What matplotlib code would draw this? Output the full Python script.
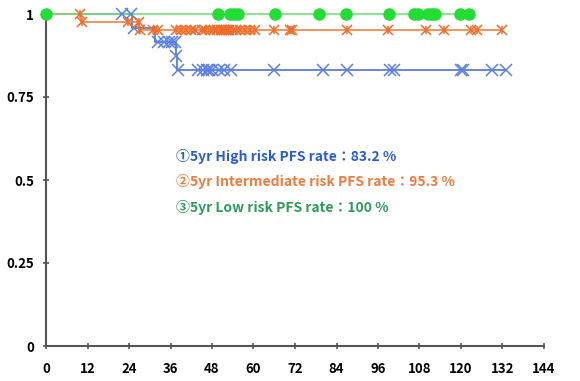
import numpy as np
import matplotlib
matplotlib.use("Agg")
import matplotlib.pyplot as plt

plt.rcParams["font.family"] = ["Noto Sans CJK JP", "DejaVu Sans"]

# High risk group (blue)
high_event_t = [0, 25, 31.5, 37.5, 38]
high_surv = [1.0, 0.958, 0.917, 0.875, 0.832]
high_censor = [22, 24.5, 25.5, 32.5, 34, 35.5, 36.5, 37.2, 37.7, 38.2, 44, 45.5,
               46.5, 47, 48, 50, 51.5, 53.5, 66, 80, 87, 99.5, 100.5, 120, 120.5,
               129, 133]
high_end = 133

# Intermediate risk group (orange)
mid_event_t = [0, 10, 27]
mid_surv = [1.0, 0.977, 0.953]
mid_censor = [9.8, 10.3, 23.8, 26.8, 27.3, 31, 32.4, 37.5, 39, 40.5, 42, 43, 45,
              46, 47.5, 48.5, 49.5, 50.5, 51, 51.5, 52, 52.5, 53, 54, 55, 56,
              57.5, 59, 60.5, 66, 70.5, 71, 87, 99, 110, 115, 123, 124.5, 132]
mid_end = 132

# Low risk group (green)
low_event_t = [0]
low_surv = [1.0]
low_censor = [0, 49.8, 53.2, 54.5, 55.6, 66.2, 78.8, 86.8, 99.2, 106.5, 107.5,
              110.5, 111.5, 112.5, 119.7, 122.3]
low_end = 122.6

labels = ["①5yr High risk PFS rate：83.2 %",
          "②5yr Intermediate risk PFS rate：95.3 %",
          "③5yr Low risk PFS rate：100 %"]
text_colors = ["#2a5bd7", "#f07a3a", "#2f9a5a"]

x_ticks = list(range(0, 145, 12))
y_ticks = [0, 0.25, 0.5, 0.75, 1]
y_tick_labels = ["0", "0.25", "0.5", "0.75", "1"]


def km_curve(ax, event_t, surv, censor, end, line_color, markers, mcolor, ms, mew):
    t = np.array(list(event_t) + [end])
    s = np.array(list(surv) + [surv[-1]])
    ax.step(t, s, where="post", color=line_color, lw=1.2, zorder=2, clip_on=False)
    c = np.array(censor)
    idx = np.searchsorted(event_t, c, side="right") - 1
    cs = np.array(surv)[idx]
    for m in markers:
        if m == "o":
            ax.plot(c, cs, "o", color=mcolor, ms=ms, mec=mcolor, zorder=3,
                    clip_on=False)
        else:
            size = ms * 0.85 if m == "|" else ms
            ax.plot(c, cs, linestyle="none", marker=m, color=mcolor, ms=size,
                    mew=mew, zorder=3, clip_on=False)


fig = plt.figure(figsize=(5.8, 3.81), dpi=100)
ax = fig.add_axes([46 / 580, 1 - 346 / 381, 498 / 580, 332 / 381])

km_curve(ax, high_event_t, high_surv, high_censor, high_end,
         "#4a72d8", ["x"], "#5b7fe0", 8, 1.1)
km_curve(ax, mid_event_t, mid_surv, mid_censor, mid_end,
         "#f08040", ["x", "|"], "#f06a28", 7.5, 1.1)
km_curve(ax, low_event_t, low_surv, low_censor, low_end,
         "#77e077", ["o"], "#22dd33", 8, 1)

ax.set_xlim(0, 144)
ax.set_ylim(0, 1)
ax.set_xticks(x_ticks)
ax.set_yticks(y_ticks)
ax.set_yticklabels(y_tick_labels)
for sp in ["top", "right"]:
    ax.spines[sp].set_visible(False)
for sp in ["left", "bottom"]:
    ax.spines[sp].set_color("#555555")
    ax.spines[sp].set_linewidth(1.5)
ax.tick_params(axis="x", direction="inout", length=5, width=1.2, color="#555555",
               pad=9, labelsize=9.5)
ax.tick_params(axis="y", direction="inout", length=5, width=1.2, color="#555555",
               pad=6, labelsize=9.5)
for lab in ax.get_xticklabels() + ax.get_yticklabels():
    lab.set_fontweight("bold")

for i, (txt, col) in enumerate(zip(labels, text_colors)):
    ax.text(37.5, 0.572 - i * 0.077, txt, color=col, fontsize=10,
            fontweight="bold", va="center", ha="left")

fig.savefig("out.png", dpi=100)
